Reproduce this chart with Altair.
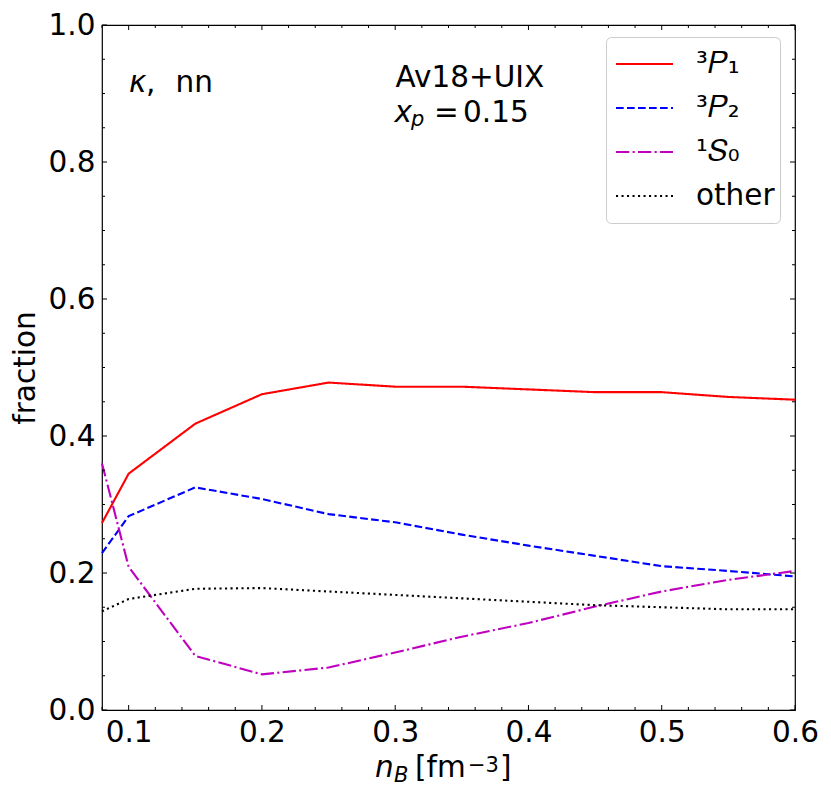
import altair as alt
import pandas as pd

# ---- data ----
nB = [0.08, 0.1, 0.15, 0.2, 0.25, 0.3, 0.35, 0.4, 0.45, 0.5, 0.55, 0.6]
p1 = [0.273, 0.345, 0.418, 0.461, 0.478, 0.472, 0.472, 0.468, 0.464, 0.464, 0.457, 0.453]
p2 = [0.229, 0.283, 0.325, 0.308, 0.286, 0.274, 0.256, 0.240, 0.225, 0.210, 0.203, 0.195]
s0 = [0.360, 0.209, 0.079, 0.052, 0.062, 0.084, 0.107, 0.127, 0.151, 0.173, 0.190, 0.203]
other = [0.144, 0.162, 0.177, 0.178, 0.173, 0.168, 0.163, 0.158, 0.153, 0.150, 0.147, 0.147]

labels = ["³𝑃₁", "³𝑃₂", "¹𝑆₀", "other"]
colors = ["#ff0000", "#0000ff", "#bf00bf", "#000000"]
dashes = [[1, 0], [7.7, 3.3], [13.3, 3.3, 2.1, 3.3], [2.1, 3.4]]

x_major = [0.1, 0.2, 0.3, 0.4, 0.5, 0.6]
x_minor = [0.08, 0.12, 0.14, 0.16, 0.18, 0.22, 0.24, 0.26, 0.28, 0.32, 0.34, 0.36, 0.38,
           0.42, 0.44, 0.46, 0.48, 0.52, 0.54, 0.56, 0.58]
y_major = [0.0, 0.2, 0.4, 0.6, 0.8, 1.0]
y_minor = [0.05, 0.1, 0.15, 0.25, 0.3, 0.35, 0.45, 0.5, 0.55, 0.65, 0.7, 0.75, 0.85, 0.9, 0.95]

W, H = 693, 685
FONT = "DejaVu Sans"
FS = 29.5
SUB = 21

rows = []
for lab, vals in zip(labels, [p1, p2, s0, other]):
    for x, v in zip(nB, vals):
        rows.append({"nB": x, "fraction": v, "series": lab})
df = pd.DataFrame(rows)

xs = alt.Scale(domain=[0.08, 0.6], nice=False, zero=False)
ys = alt.Scale(domain=[0.0, 1.0], nice=False, zero=False)

x_axis = alt.Axis(
    values=x_major, format=".1f", ticks=False, tickSize=0, domain=False, grid=False,
    labelFontSize=FS, labelFont=FONT, labelColor="black", labelPadding=8,
    labelFlush=False, labelOverlap=False, title=None)
y_axis = alt.Axis(
    values=y_major, format=".1f", ticks=False, tickSize=0, domain=False, grid=False,
    labelFontSize=FS, labelFont=FONT, labelColor="black", labelPadding=7,
    labelFlush=False, labelOverlap=False, title="fraction",
    titleFontSize=FS, titleFont=FONT, titleFontWeight="normal", titleColor="black",
    titlePadding=8)

legend = alt.Legend(
    title=None, orient="none", legendX=504, legendY=12,
    symbolType="stroke", symbolSize=3249, symbolStrokeWidth=2, symbolOffset=4,
    labelFontSize=FS, labelFont=FONT, labelColor="black",
    labelOffset=22, padding=5, rowPadding=0, clipHeight=44,
    strokeColor="#cccccc", cornerRadius=5, fillColor="rgba(255,255,255,0.8)",
)

lines = alt.Chart(df).mark_line(strokeWidth=2.1).encode(
    x=alt.X("nB:Q", scale=xs, axis=x_axis),
    y=alt.Y("fraction:Q", scale=ys, axis=y_axis),
    color=alt.Color("series:N", sort=labels, scale=alt.Scale(domain=labels, range=colors), legend=legend),
    strokeDash=alt.StrokeDash("series:N", sort=labels, scale=alt.Scale(domain=labels, range=dashes), legend=legend),
)

def ticks_x(vals, length, top):
    d = pd.DataFrame({"v": vals})
    y0, y1 = (0, length) if top else (H, H - length)
    return alt.Chart(d).mark_rule(color="black", strokeWidth=1).encode(
        x=alt.X("v:Q", scale=xs, axis=x_axis), y=alt.value(y0), y2=alt.value(y1))

def ticks_y(vals, length, right):
    d = pd.DataFrame({"v": vals})
    x0, x1 = (W, W - length) if right else (0, length)
    return alt.Chart(d).mark_rule(color="black", strokeWidth=1).encode(
        y=alt.Y("v:Q", scale=ys, axis=y_axis), x=alt.value(x0), x2=alt.value(x1))

tick_layers = [
    ticks_x(x_major, 5, False), ticks_x(x_major, 5, True),
    ticks_x(x_minor, 3, False), ticks_x(x_minor, 3, True),
    ticks_y(y_major, 5, False), ticks_y(y_major, 5, True),
    ticks_y(y_minor, 3, False), ticks_y(y_minor, 3, True),
]

def txt(s, x, y, size=FS, italic=False):
    kw = dict(text=s, align="left", baseline="alphabetic", font=FONT, fontSize=size, color="black")
    if italic:
        kw["fontStyle"] = "italic"
    return alt.Chart(pd.DataFrame({"a": [0]})).mark_text(**kw).encode(
        x=alt.value(x), y=alt.value(y))

texts = [
    txt("κ", 27, 66.7, italic=True),
    txt(",", 44, 66.7),
    txt("nn", 73.5, 66.7),
    txt("Av18+UIX", 293.5, 61.7),
    txt("x", 292.5, 96.7, italic=True),
    txt("p", 309, 101, size=SUB, italic=True),
    txt("=", 332, 96.7),
    txt("0.15", 361, 96.7),
    # x-axis title  n_B [fm^-3]
    txt("n", 273, 752, italic=True),
    txt("B", 292, 757, size=SUB, italic=True),
    txt("[fm", 313, 752),
    txt("−3", 366, 747, size=SUB),
    txt("]", 398, 752),
]

chart = alt.layer(lines, *tick_layers, *texts).properties(
    width=W, height=H,
    background="white",
    autosize=alt.AutoSizeParams(type="none"),
    padding={"left": 94, "top": 17, "right": 28, "bottom": 80},
).configure_view(stroke="black", strokeWidth=1.2)

chart.save("out.html", embed_options={"renderer": "svg", "actions": False})
